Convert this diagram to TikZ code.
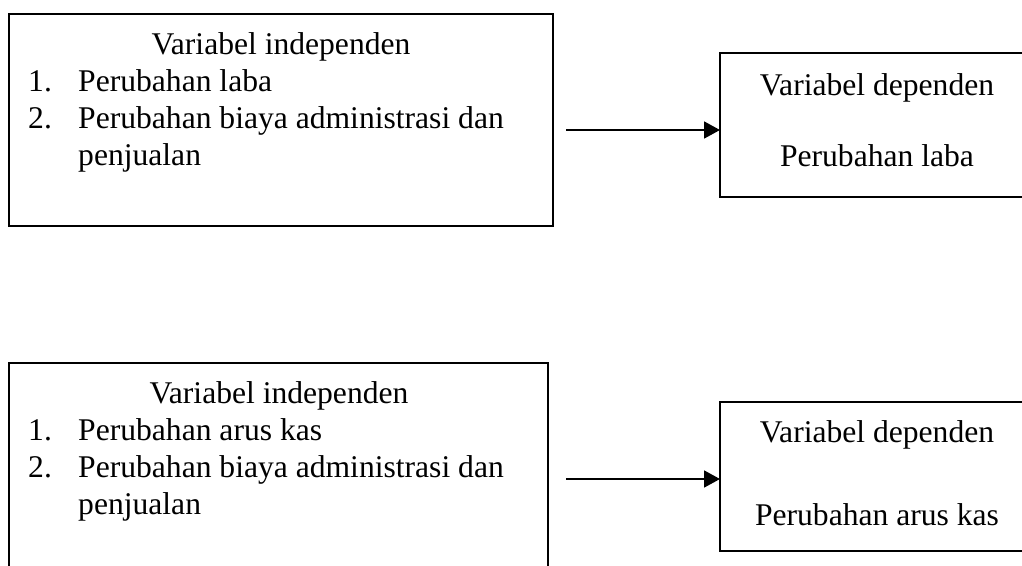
\documentclass[tikz,border=0pt]{standalone}
\usepackage{fontspec}
\setmainfont{Liberation Serif}
\usetikzlibrary{arrows.meta}
\begin{document}
\begin{tikzpicture}[x=1pt,y=-1pt,
  box/.style={draw=black,line width=1.8pt,fill=none,inner sep=0pt,outer sep=0pt,anchor=north west},
  txt/.style={inner sep=0pt,anchor=base,font=\fontsize{31.6}{37}\selectfont},
  txtw/.style={txt,anchor=base west},
  conn/.style={line width=1.8pt,-{Triangle[length=16pt,width=17pt]}}]
\useasboundingbox (0,0) rectangle (1022,565);
\clip (0,0) rectangle (1022,565);
\fill[white] (0,0) rectangle (1022,565);
% top row
\node[box,minimum width=544pt,minimum height=212pt] (ind1) at (9,14) {};
\node[box,minimum width=330pt,minimum height=144pt] (dep1) at (720,53) {};
\node[txt] (t1) at (281,54) {Variabel independen};
\node[txtw] (n11) at (28,91) {1.};
\node[txtw] (i11) at (78,91) {Perubahan laba};
\node[txtw] (n12) at (28,128) {2.};
\node[txtw] (i12) at (78,128) {Perubahan biaya administrasi dan};
\node[txtw] (i13) at (78,165) {penjualan};
\node[txt] (d11) at (877,95) {Variabel dependen};
\node[txt] (d12) at (877,166) {Perubahan laba};
\coordinate (s1) at (566,130);
\draw[conn] (s1) -- (s1 -| dep1.west);
% bottom row
\node[box,minimum width=539pt,minimum height=260pt] (ind2) at (9,363) {};
\node[box,minimum width=330pt,minimum height=149pt] (dep2) at (720,402) {};
\node[txt] (t2) at (279,403) {Variabel independen};
\node[txtw] (n21) at (28,440) {1.};
\node[txtw] (i21) at (78,440) {Perubahan arus kas};
\node[txtw] (n22) at (28,477) {2.};
\node[txtw] (i22) at (78,477) {Perubahan biaya administrasi dan};
\node[txtw] (i23) at (78,514) {penjualan};
\node[txt] (d21) at (877,442) {Variabel dependen};
\node[txt] (d22) at (877,525) {Perubahan arus kas};
\coordinate (s2) at (566,479);
\draw[conn] (s2) -- (s2 -| dep2.west);
\end{tikzpicture}
\end{document}
